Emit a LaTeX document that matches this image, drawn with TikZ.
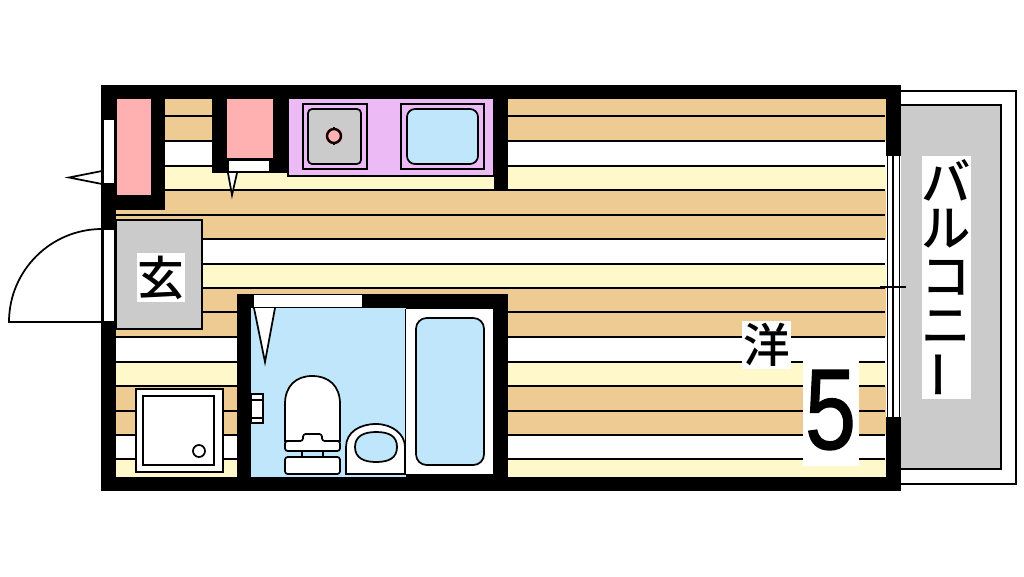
\documentclass[tikz,border=0pt]{standalone}
\usepackage{fontspec}
\setmainfont{Liberation Sans}
\newfontfamily\numfont[FakeBold=1.2]{Liberation Sans}
\newfontfamily\jpfont{Noto Sans CJK JP Medium}
\definecolor{tanband}{HTML}{EFCB94}
\definecolor{creamband}{HTML}{FFF8CA}
\definecolor{pinkfill}{HTML}{FFB0B0}
\definecolor{purplefill}{HTML}{ECBBF5}
\definecolor{bluefill}{HTML}{BFE6FB}
\definecolor{grayfill}{HTML}{CBCBCB}
\tikzset{
  thin line/.style={draw=black,line width=1.3pt},
  wall/.style={fill=black,draw=none},
  label box/.style={fill=white,inner sep=0pt,text=black,font=\jpfont},
  vert char/.style={inner sep=0pt,text=black,font=\jpfont\fontsize{37}{37}\selectfont},
}
\begin{document}
\begin{tikzpicture}[x=0.75pt,y=-0.75pt]
\useasboundingbox (0,0) rectangle (1024,576);
\fill[white] (0,0) rectangle (1024,576);
% floor bands
\foreach \a/\b/\c in {99/116/tanband,116/141/tanband,141/166/white,166/190/creamband,190/215/tanband,215/239/tanband,239/264/white,264/288/creamband,288/312/tanband,312/337/tanband,337/362/white,362/386/creamband,386/411/tanband,411/435/tanband,435/459/white,459/477/creamband}
  \fill[\c] (116,\a) rectangle (886,\b);
\foreach \a in {116,141,166,190,215,239,264,288,312,337,362,386,411,435,459}
  \draw[thin line] (116,\a) -- (885,\a);
% balcony
\draw[thin line,fill=white] (901,91) -- (1016,91) -- (1016,484) -- (901,484);
\draw[thin line,fill=grayfill] (901,105) -- (1001,105) -- (1001,469) -- (901,469);
% outer walls
\fill[wall] (101,85) rectangle (901,99);
\fill[wall] (101,477) rectangle (901,491);
\fill[wall] (101,85) rectangle (116,491);
\fill[wall] (886,85) rectangle (901,156);
\fill[wall] (886,417) rectangle (901,491);
% left window
\draw[thin line,fill=white] (103,119) rectangle (115,184);
\draw[thin line,fill=white] (102,171) -- (69,177.5) -- (102,184) -- cycle;
% closet 1
\fill[wall] (116,99) rectangle (165,210);
\fill[pinkfill] (117,99) rectangle (151,195);
% closet 2
\fill[wall] (212,99) rectangle (288,173);
\fill[pinkfill] (227,99) rectangle (273,158);
\draw[thin line,fill=white] (228,160) rectangle (270,172);
\draw[thin line,fill=white] (228,173) -- (232,195) -- (237,173);
% kitchen
\draw[thin line,fill=purplefill] (288,99) -- (288,176) -- (494,176) -- (494,99);
\fill[wall] (494,99) rectangle (508,190);
\draw[thin line] (303,104) rectangle (367,169);
\draw[thin line,fill=grayfill,rounded corners=3pt] (308,109) rectangle (361,164);
\fill[pinkfill] (334,136) circle[radius=9];
\draw[line width=1.8pt] (334,136) circle[radius=7];
\draw[thin line] (334,127) -- (334,130) (334,142) -- (334,145);
\draw[thin line] (401,104) rectangle (484,169);
\draw[thin line,fill=bluefill,rounded corners=6pt] (407,109) rectangle (478,164);
% entrance
\draw[thin line,fill=grayfill] (116,220) rectangle (202,329);
\draw[thin line,fill=white] (103,229) rectangle (115,322);
\draw[thin line] (102,229) arc[start angle=-90,end angle=-180,radius=93] -- (102,322);
\node[label box,minimum width=36pt,minimum height=36.75pt,font=\jpfont\fontsize{35}{35}\selectfont] (genkan) at (161,277.5) {玄};
% bathroom
\fill[wall] (237,294) rectangle (508,491);
\fill[bluefill] (251,308) rectangle (406,477);
\fill[white] (406,309) rectangle (493,474);
\draw[thin line] (405.5,309) -- (405.5,474);
\fill[white] (254,295) rectangle (362,307);
\draw[thin line,fill=white] (254,308) -- (265,362) -- (275,308);
\draw[thin line,fill=bluefill,rounded corners=8pt] (416,318) rectangle (484,465);
% paper holder
\draw[thin line,fill=white] (251,394) rectangle (263,423);
\draw[thin line] (251,400) -- (263,400) (251,418) -- (263,418);
% toilet
\draw[thin line,fill=white] (285,441) -- (285,404) .. controls (285,386) and (296,376) .. (312,376) .. controls (329,376) and (340,386) .. (340,404) -- (340,441) -- cycle;
\draw[thin line,fill=white,rounded corners=2pt] (285,441) -- (303,441) -- (303,434) -- (322,434) -- (322,441) -- (340,441) -- (340,451) -- (285,451) -- cycle;
\draw[thin line] (302,451) -- (302,457) (323,451) -- (323,457);
\draw[thin line,fill=white,rounded corners=2pt] (285,457) rectangle (340,474);
% wash basin
\draw[thin line,fill=white] (346,474) -- (346,447) .. controls (346,432) and (360,424) .. (376,424) .. controls (392,424) and (405,434) .. (405,447) -- (405,474) -- cycle;
\draw[thin line,fill=bluefill] (355,447) .. controls (355,436) and (364,432) .. (376,432) .. controls (389,432) and (397,436) .. (397,447) .. controls (397,458) and (389,462) .. (376,462) .. controls (364,462) and (355,458) .. (355,447) -- cycle;
% washer
\draw[thin line,fill=white] (136,389) rectangle (223,472);
\draw[thin line] (143,396) rectangle (214,465);
\draw[thin line] (199,451) circle[radius=6];
% balcony window
\fill[white] (887,156) rectangle (900,417);
\draw[thin line] (887.5,156) -- (887.5,417) (893,156) -- (893,417) (899.5,156) -- (899.5,417);
\draw[line width=0.9pt] (880,287) -- (906,287);
% room labels
\node[label box,minimum width=36.75pt,minimum height=36pt,font=\jpfont\fontsize{35}{35}\selectfont] (room) at (766.5,345) {洋};
\fill[white] (803,361) rectangle (859,466);
\node[inner sep=0pt,text=black,xscale=0.8,font=\numfont\fontsize{86}{86}\selectfont] (size) at (830.5,410) {5};
% balcony label
\fill[white] (922,156) rectangle (971,399);
\node[vert char] (b1) at (946,180) {バ};
\node[vert char] (b2) at (946,229) {ル};
\node[vert char] (b3) at (946,278) {コ};
\node[vert char] (b4) at (946,327) {ニ};
\node[vert char,rotate=90] (b5) at (946,375) {ー};
\end{tikzpicture}
\end{document}
